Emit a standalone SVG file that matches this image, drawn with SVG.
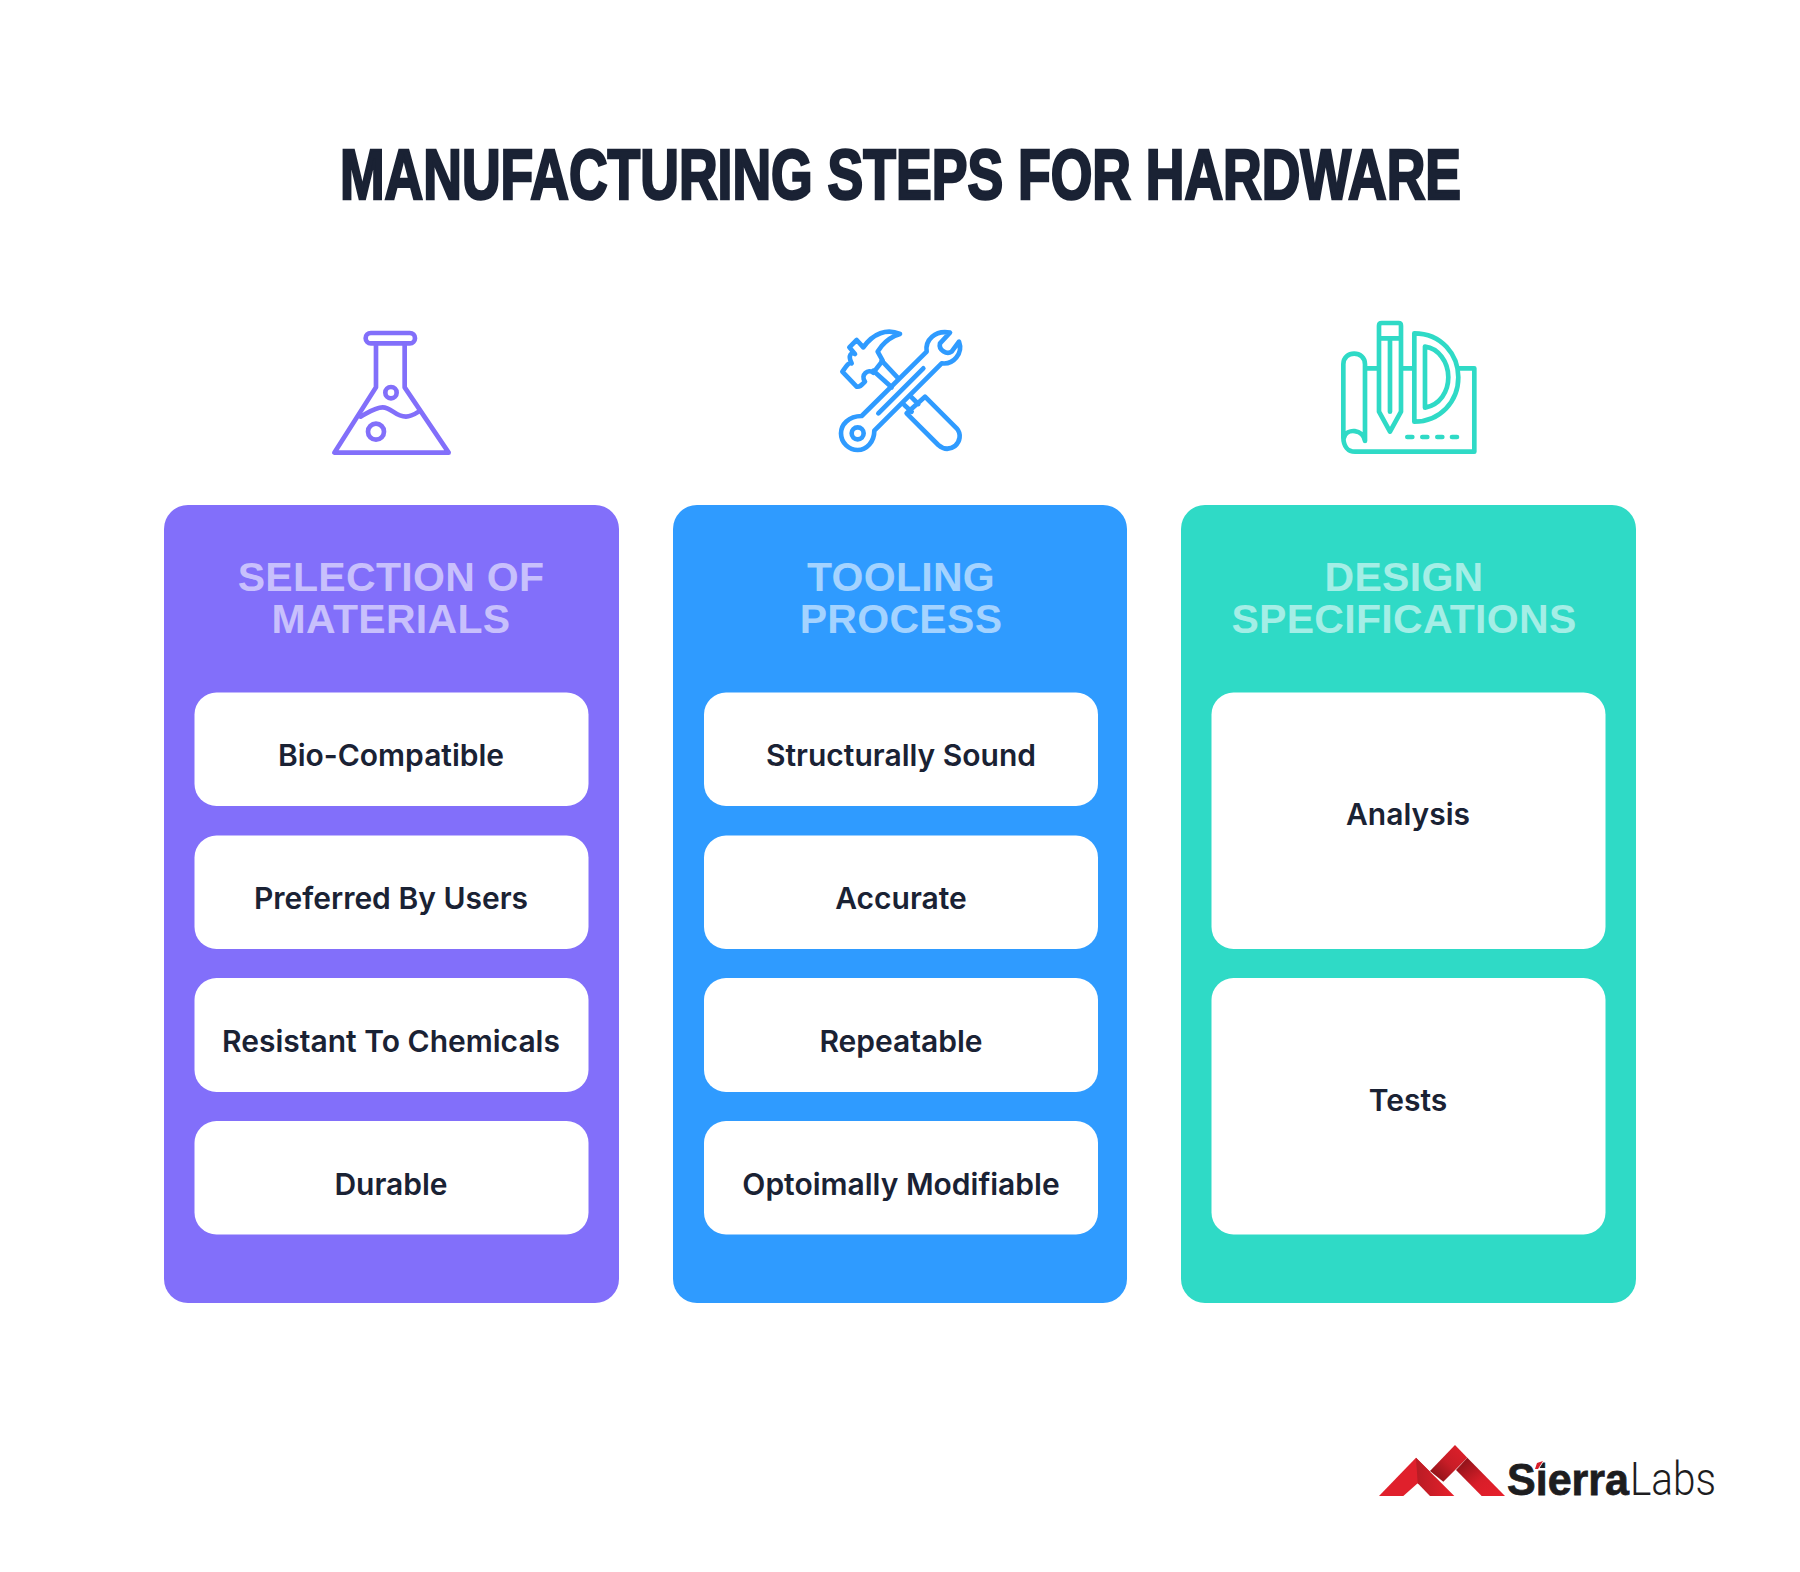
<svg xmlns="http://www.w3.org/2000/svg" width="1800" height="1572" viewBox="0 0 1800 1572">
<style>
.card{stroke:none}
.box{fill:#fff}
.head{font-family:"Liberation Sans",Arial,sans-serif;font-weight:700;font-size:41px;letter-spacing:.3px;fill:#fff;fill-opacity:.56;text-anchor:middle}
.item{font-family:Inter,"Liberation Sans",sans-serif;font-weight:600;font-size:30px;fill:#1a2234;text-anchor:middle}
.ico{fill:none;stroke-width:14;stroke-linecap:round;stroke-linejoin:round}
</style>
<defs>
<linearGradient id="g1" x1="0" y1="0" x2="1" y2="0"><stop offset="0" stop-color="#b81c24"/><stop offset="1" stop-color="#e8202c"/></linearGradient>
<linearGradient id="g2" x1="1" y1="0" x2="0" y2="1"><stop offset="0" stop-color="#e2202b"/><stop offset=".5" stop-color="#c81d27"/><stop offset="1" stop-color="#7d1015"/></linearGradient>
<linearGradient id="g3" x1="0" y1="0" x2="1" y2="1"><stop offset="0" stop-color="#7d1015"/><stop offset=".55" stop-color="#d81e29"/><stop offset="1" stop-color="#e8202c"/></linearGradient>
</defs>
<rect width="1800" height="1572" fill="#fff"/>
<text id="title" x="340" y="199" textLength="1121" lengthAdjust="spacingAndGlyphs" font-family="'Liberation Sans',Arial,sans-serif" font-weight="700" font-size="70" fill="#1a2234" stroke="#1a2234" stroke-width="2.600">MANUFACTURING STEPS FOR HARDWARE</text>

<g id="icon-flask" class="ico" stroke="#826ffa" transform="translate(300 300) scale(.3333)">
<rect x="197" y="99" width="148" height="31" rx="15.500"/>
<path d="M228 132V262L103 458H446L314 262V132"/>
<path d="M182 350C205 338 225 322 248 322C275 322 285 350 318 350C333 350 345 342 356 335"/>
<circle cx="273" cy="278" r="17"/>
<circle cx="228" cy="395" r="24"/>
</g>
<g id="icon-tools" class="ico" stroke="#2f9bff" transform="translate(810 310) scale(.3333)">
<path d="M190 182L245 232M215 152L265 205"/>
<path d="M270 72C230 55 190 70 160 112L140 90L118 112L135 132C125 125 112 135 125 160C115 155 105 175 97 185L140 230C150 232 155 225 165 215C150 195 175 175 190 188L218 152L203 125L215 108C232 88 250 78 270 72Z"/>
<path d="M155 318C115 318 93 345 93 370C93 400 118 420 143 420C170 420 193 395 193 362L395 160C430 165 460 130 447 95L425 125C410 135 385 120 390 100L420 68C375 60 345 90 350 125Z"/>
<circle cx="143" cy="370" r="18"/>
<path d="M205 310L340 175"/>
<path d="M283 285L305 305M305 262L325 282M290 310L345 260L440 355C455 372 450 395 435 408C418 420 400 418 385 405L290 310"/>
</g>
<g id="icon-design" class="ico" stroke="#2fdac6" transform="translate(1320 305) scale(.3333)">
<path d="M70 395V178C70 135 135 135 135 178V408C130 372 80 368 72 398"/>
<path d="M70 395C70 425 85 440 105 440H463V190H417"/>
<path d="M137 190H175M245 190H280"/>
<path d="M177 320V62C177 56 180 54 185 54H236C241 54 243 56 243 62V320L210 380ZM177 100H243M210 100V320"/>
<path d="M283 85V350C360 350 415 290 415 217C415 150 365 85 283 85Z"/>
<path d="M315 125V308C360 300 385 260 385 217C385 170 355 130 315 125Z"/>
<path d="M262 396H277M307 396H322M352 396H367M396 396H411"/>
</g>

<g id="col-materials">
<rect class="card" x="164" y="505" width="455" height="798" rx="24" fill="#826ffa"/>
<text class="head" x="391" y="591">SELECTION OF</text>
<text class="head" x="391" y="633">MATERIALS</text>
</g>
<g id="materials-1"><rect class="box" x="194.500" y="692.500" width="394" height="113.500" rx="22"/><text class="item" x="391" y="766">Bio-Compatible</text></g>
<g id="materials-2"><rect class="box" x="194.500" y="835.500" width="394" height="113.500" rx="22"/><text class="item" x="391" y="909">Preferred By Users</text></g>
<g id="materials-3"><rect class="box" x="194.500" y="978" width="394" height="114" rx="22"/><text class="item" x="391" y="1052">Resistant To Chemicals</text></g>
<g id="materials-4"><rect class="box" x="194.500" y="1121" width="394" height="113.500" rx="22"/><text class="item" x="391" y="1195">Durable</text></g>

<g id="col-tooling">
<rect class="card" x="673" y="505" width="454" height="798" rx="24" fill="#2f9bff"/>
<text class="head" x="901" y="591">TOOLING</text>
<text class="head" x="901" y="633">PROCESS</text>
</g>
<g id="tooling-1"><rect class="box" x="704" y="692.500" width="394" height="113.500" rx="22"/><text class="item" x="901" y="766">Structurally Sound</text></g>
<g id="tooling-2"><rect class="box" x="704" y="835.500" width="394" height="113.500" rx="22"/><text class="item" x="901" y="909">Accurate</text></g>
<g id="tooling-3"><rect class="box" x="704" y="978" width="394" height="114" rx="22"/><text class="item" x="901" y="1052">Repeatable</text></g>
<g id="tooling-4"><rect class="box" x="704" y="1121" width="394" height="113.500" rx="22"/><text class="item" x="901" y="1195">Optoimally Modifiable</text></g>

<g id="col-design">
<rect class="card" x="1181" y="505" width="455" height="798" rx="24" fill="#2fdac6"/>
<text class="head" x="1404" y="591">DESIGN</text>
<text class="head" x="1404" y="633">SPECIFICATIONS</text>
</g>
<g id="design-1"><rect class="box" x="1211.500" y="692.500" width="394" height="256.500" rx="22"/><text class="item" x="1408" y="825">Analysis</text></g>
<g id="design-2"><rect class="box" x="1211.500" y="978" width="394" height="256.500" rx="22"/><text class="item" x="1408" y="1111">Tests</text></g>

<g id="logo">
<g transform="translate(1370 1435) scale(.3333)">
<path d="M27 183L138 68L180 110L143 145L100 183Z" fill="#e0202c"/>
<path d="M138 68L253 183H180L143 145Z" fill="url(#g1)"/>
<path d="M180 108L255 30L292 68L220 140Z" fill="url(#g2)"/>
<path d="M292 68L405 183H335L258 105Z" fill="url(#g3)"/>
</g>
<text x="1507" y="1495" textLength="122" lengthAdjust="spacingAndGlyphs" font-family="'Liberation Sans',Arial,sans-serif" font-weight="700" font-size="44" fill="#1d1d1f" stroke="#1d1d1f" stroke-width=".8">Sierra</text>
<path d="M1537 1463L1543 1461L1538 1469H1535Z" fill="#d81e29" stroke="#fff" stroke-width="1.500" paint-order="stroke"/>
<text x="1630" y="1495" textLength="86" lengthAdjust="spacingAndGlyphs" font-family="Roboto,'Liberation Sans',sans-serif" font-weight="300" font-size="46" fill="#1d1d1f">Labs</text>
</g>
</svg>
